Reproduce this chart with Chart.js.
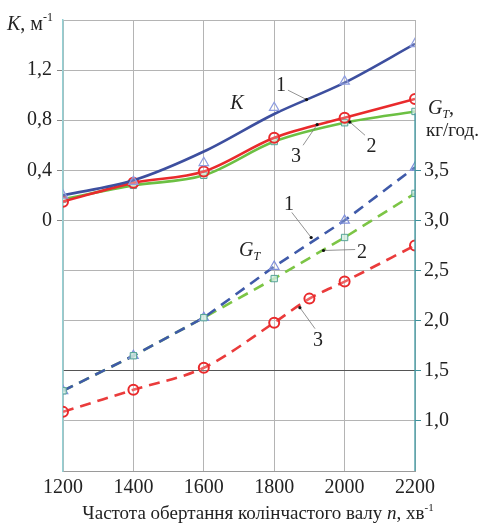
<!DOCTYPE html>
<html>
<head>
<meta charset="utf-8">
<script src="https://cdn.jsdelivr.net/npm/chart.js@4.4.1/dist/chart.umd.min.js"></script>
<style>
body { margin:0; background:#fff; }
#wrap { width:487px; height:530px; }
</style>
</head>
<body>
<div id="wrap"><canvas id="myChart"></canvas></div>
<script>
//engine speed n, rpm
var rpm = [1200, 1400, 1600, 1800, 2000, 2200];
var rpmRed = [1200, 1400, 1600, 1800, 1900, 2000, 2200];

//K, 1/m : 1 - blue, 2 - green, 3 - red
var kFit1 = [0.20, 0.32, 0.55, 0.85, 1.10, 1.41];
var kPts1 = [0.20, 0.31, 0.46, 0.90, 1.11, 1.41];
var kPts2 = [0.17, 0.28, 0.36, 0.63, 0.78, 0.87];
var kPts3 = [0.15, 0.30, 0.39, 0.66, 0.82, 0.97];

//fuel consumption G_T, kg/h
var gPts1 = [1.30, 1.65, 2.03, 2.54, 3.00, 3.53];
var gPts2 = [1.30, 1.65, 2.03, 2.42, 2.83, 3.27];
var gPts3 = [1.09, 1.31, 1.53, 1.98, 2.22, 2.39, 2.75];

//which tick labels are shown on each axis
var kTicks = [0, 0.4, 0.8, 1.2];
var gTicks = [1.0, 1.5, 2.0, 2.5, 3.0, 3.5];

var SERIF = "'Liberation Serif', 'Times New Roman', serif";
var BLUE = '#3d4f9f', GREEN = '#6cc043', RED = '#e92a2c';
var BLUE_D = '#3f5aa9', GREEN_D = '#7cc545', RED_D = '#ea3b3b';

function xy(xs, ys) {
   return ys.map(function(v, i) { return {x: xs[i], y: v}; });
}
function inList(list, v) {
   for (var i = 0; i < list.length; i++) {
      if (Math.abs(list[i] - v) < 1e-6) return true;
   }
   return false;
}
function comma(v) {
   return v.toFixed(1).replace('.', ',');
}

//draws a row of text pieces with their own fonts (for italics / sub / sup)
function runsWidth(ctx, runs) {
   var w = 0;
   runs.forEach(function(r) { ctx.font = r.f; w += ctx.measureText(r.t).width; });
   return w;
}
function drawRuns(ctx, x, y, runs) {
   var cx = x;
   runs.forEach(function(r) {
      ctx.font = r.f;
      ctx.fillText(r.t, cx, y + (r.dy || 0));
      cx += ctx.measureText(r.t).width;
   });
}

var textPlugin = {
   id: 'texts',
   afterDatasetsDraw: function(chart) {
      var ctx = chart.ctx, sx = chart.scales.x, sk = chart.scales.yK, sg = chart.scales.yG, a = chart.chartArea;
      ctx.save();

      //teal right axis line (only the G_T part)
      ctx.strokeStyle = '#3e9aa3';
      ctx.lineWidth = 1.3;
      ctx.beginPath();
      ctx.moveTo(a.right, sg.getPixelForValue(4.07));
      ctx.lineTo(a.right, a.bottom);
      ctx.stroke();

      ctx.fillStyle = '#222';
      ctx.textBaseline = 'alphabetic';
      var f20 = '20px ' + SERIF, i20 = 'italic 20px ' + SERIF;
      var f12 = '12px ' + SERIF, i12 = 'italic 12px ' + SERIF;

      //axis names
      drawRuns(ctx, 7, 30, [{t:'K', f:i20}, {t:', м', f:f20}, {t:'-1', f:f12, dy:-9}]);
      drawRuns(ctx, a.right + 13, 114, [{t:'G', f:i20}, {t:'T', f:i12, dy:4}, {t:',', f:f20}]);
      drawRuns(ctx, a.right + 11, 136, [{t:'кг/год.', f:'19px ' + SERIF}]);
      var title = [{t:'Частота обертання колінчастого валу ', f:'19px ' + SERIF},
                   {t:'n', f:'italic 19px ' + SERIF}, {t:', хв', f:'19px ' + SERIF},
                   {t:'-1', f:'11px ' + SERIF, dy:-8}];
      var tw = runsWidth(ctx, title);
      drawRuns(ctx, 258 - tw / 2, 519, title);

      //curve labels with leader lines, placed in data units
      function lbl(scale, n, v, runs) {
         drawRuns(ctx, sx.getPixelForValue(n), scale.getPixelForValue(v), runs);
      }
      function lead(scale, n1, v1, n2, v2) {
         var x1 = sx.getPixelForValue(n1), y1 = scale.getPixelForValue(v1);
         var x2 = sx.getPixelForValue(n2), y2 = scale.getPixelForValue(v2);
         ctx.strokeStyle = '#777';
         ctx.lineWidth = 0.8;
         ctx.beginPath();
         ctx.moveTo(x1, y1);
         ctx.lineTo(x2, y2);
         ctx.stroke();
         ctx.beginPath();
         ctx.arc(x2, y2, 1.6, 0, Math.PI * 2);
         ctx.fillStyle = '#111';
         ctx.fill();
         ctx.fillStyle = '#222';
      }
      lbl(sk, 1805, 1.03, [{t:'1', f:f20}]);
      lead(sk, 1839, 1.04, 1892, 0.965);
      lbl(sk, 1675, 0.89, [{t:'K', f:i20}]);
      lbl(sk, 1848, 0.47, [{t:'3', f:f20}]);
      lead(sk, 1882, 0.60, 1922, 0.765);
      lbl(sk, 2062, 0.55, [{t:'2', f:f20}]);
      lead(sk, 2058, 0.68, 2015, 0.785);

      lbl(sg, 1828, 3.10, [{t:'1', f:f20}]);
      lead(sg, 1850, 3.08, 1905, 2.83);
      lbl(sg, 1700, 2.65, [{t:'G', f:i20}, {t:'T', f:i12, dy:4}]);
      lbl(sg, 2035, 2.63, [{t:'2', f:f20}]);
      lead(sg, 2030, 2.71, 1940, 2.70);
      lbl(sg, 1910, 1.75, [{t:'3', f:f20}]);
      lead(sg, 1916, 1.92, 1873, 2.13);

      ctx.restore();
   }
};

var ctx = document.getElementById('myChart').getContext('2d');
var chart = new Chart(ctx, {
   type: 'line',
   data: {
      datasets: [
         {  //K, curve 1 (smoothed line)
            data: xy(rpm, kFit1), yAxisID: 'yK', borderColor: BLUE, borderWidth: 2.6,
            cubicInterpolationMode: 'monotone', pointRadius: 0, order: 2
         },
         {  //K, curve 1 measured points
            data: xy(rpm, kPts1), yAxisID: 'yK', showLine: false, pointStyle: 'triangle',
            pointRadius: 5.5, pointBorderColor: '#8e9de0', pointBackgroundColor: 'rgba(255,255,255,0.2)',
            pointBorderWidth: 1.2, order: 1
         },
         {  //K, curve 2
            data: xy(rpm, kPts2), yAxisID: 'yK', borderColor: GREEN, borderWidth: 2.6,
            cubicInterpolationMode: 'monotone',
            pointStyle: 'rect', pointRadius: 4.5, pointBorderColor: '#55a597',
            pointBackgroundColor: 'rgba(210,236,222,0.8)', pointBorderWidth: 1, order: 4
         },
         {  //K, curve 3
            data: xy(rpm, kPts3), yAxisID: 'yK', borderColor: RED, borderWidth: 2.6,
            cubicInterpolationMode: 'monotone',
            pointStyle: 'circle', pointRadius: 5, pointBorderColor: RED,
            pointBackgroundColor: 'rgba(255,255,255,0.2)', pointBorderWidth: 2, order: 3
         },
         {  //G_T, curve 2 line
            data: xy(rpm, gPts2), yAxisID: 'yG', borderColor: GREEN_D, borderWidth: 2.6,
            borderDash: [11, 7], tension: 0, pointRadius: 0, order: 8
         },
         {  //G_T, curve 1
            data: xy(rpm, gPts1), yAxisID: 'yG', borderColor: BLUE_D, borderWidth: 2.6,
            borderDash: [11, 7], tension: 0, pointStyle: 'triangle', pointRadius: 5.5,
            pointBorderColor: '#7f8fdb', pointBackgroundColor: 'rgba(255,255,255,0.2)',
            pointBorderWidth: 1.2, order: 7
         },
         {  //G_T, curve 2 points on top
            data: xy(rpm, gPts2), yAxisID: 'yG', showLine: false, pointStyle: 'rect',
            pointRadius: 4.5, pointBorderColor: '#55a597',
            pointBackgroundColor: 'rgba(210,236,222,0.8)', pointBorderWidth: 1, order: 6
         },
         {  //G_T, curve 3
            data: xy(rpmRed, gPts3), yAxisID: 'yG', borderColor: RED_D, borderWidth: 2.6,
            borderDash: [11, 7], cubicInterpolationMode: 'monotone', pointStyle: 'circle', pointRadius: 5,
            pointBorderColor: RED, pointBackgroundColor: 'rgba(255,255,255,0.2)',
            pointBorderWidth: 2, order: 5
         }
      ]
   },
   options: {
      responsive: true,
      maintainAspectRatio: false,
      animation: false,
      layout: { padding: { top: 20, left: 0, right: 0, bottom: 0 } },
      plugins: { legend: { display: false }, tooltip: { enabled: false } },
      scales: {
         x: {
            type: 'linear', min: 1200, max: 2200,
            ticks: { stepSize: 200, color: '#222', padding: 5, font: { family: SERIF, size: 20 },
                     callback: function(v) { return String(v); } },
            grid: { color: '#b4b4b4', drawTicks: false },
            border: { color: '#9a9a9a' },
            afterFit: function(s) { s.height = 59; }
         },
         yK: {
            type: 'linear', position: 'left', min: -2.0, max: 1.6,
            ticks: { stepSize: 0.4, color: '#222', padding: 5, font: { family: SERIF, size: 20 },
                     callback: function(v) {
                        if (!inList(kTicks, v)) return '';
                        return Math.abs(v) < 1e-6 ? '0' : comma(v);
                     } },
            grid: {
               tickLength: 6,
               color: function(c) {
                  return (c.tick && Math.abs(c.tick.value + 1.2) < 1e-6) ? '#555' : '#b4b4b4';
               },
               tickColor: function(c) {
                  return (c.tick && inList(kTicks, c.tick.value)) ? '#888' : 'rgba(0,0,0,0)';
               }
            },
            border: { color: '#93d0d3', width: 1.5 },
            afterFit: function(s) { s.width = 63; }
         },
         yG: {
            type: 'linear', position: 'right', min: 0.5, max: 5.0,
            ticks: { stepSize: 0.5, color: '#222', padding: 3, font: { family: SERIF, size: 20 },
                     callback: function(v) { return inList(gTicks, v) ? comma(v) : ''; } },
            grid: {
               drawOnChartArea: false, tickLength: 6,
               tickColor: function(c) {
                  return (c.tick && inList(gTicks, c.tick.value)) ? '#3e8f9a' : 'rgba(0,0,0,0)';
               }
            },
            border: { display: false },
            afterFit: function(s) { s.width = 72; }
         }
      }
   },
   plugins: [textPlugin]
});
</script>
</body>
</html>
